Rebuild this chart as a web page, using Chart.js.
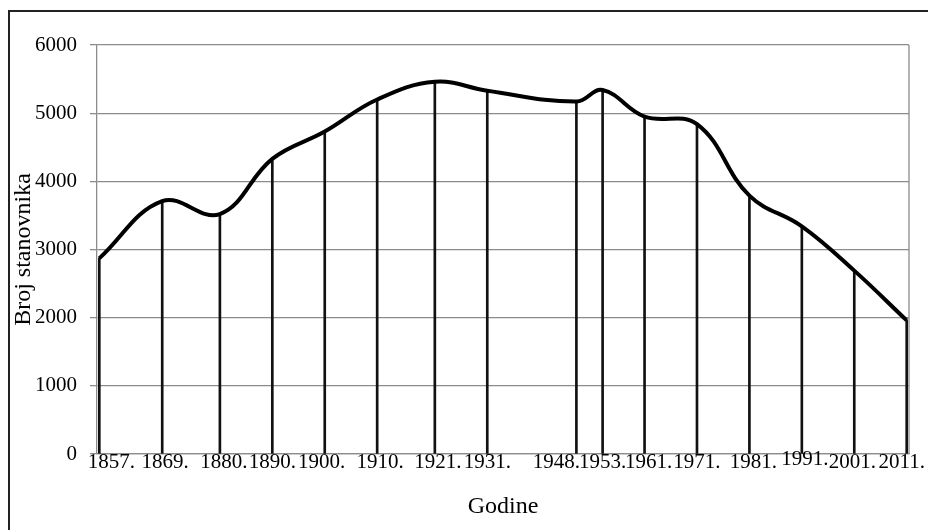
<!DOCTYPE html>
<html><head><meta charset="utf-8">
<script src="https://cdn.jsdelivr.net/npm/chart.js@4/dist/chart.umd.min.js"></script>
<style>
html,body{margin:0;padding:0;background:#fff;overflow:hidden;}
#wrap{position:relative;width:928px;height:530px;overflow:hidden;}
#frame{position:absolute;left:8px;top:10px;width:1000px;height:1000px;border-top:2px solid #222;border-left:2px solid #222;}
canvas{position:absolute;left:0;top:0;}
</style></head><body>
<div id="wrap"><div id="frame"></div><canvas id="c" width="928" height="530"></canvas></div>
<script>
// ---- data ----
const years = [1857,1869,1880,1890,1900,1910,1921,1931,1948,1953,1961,1971,1981,1991,2001,2011];
const population = [2870,3710,3520,4330,4730,5200,5460,5330,5170,5340,4950,4840,3790,3340,2690,1960];
const yearLabels = years.map(y => y + '.');
const yTickValues = [0,1000,2000,3000,4000,5000,6000];
const xTitle = 'Godine';
const yTitle = 'Broj stanovnika';

// ---- layout tweaks (label nudges, px) ----
const labelNudge = {1857:[12,0],1869:[3,0],1880:[4,0],1900:[-3,0],1910:[3,0],1921:[3,0],1948:[-20,0],1961:[4,0],1981:[4,0],1991:[3,-3],2001:[-2,0],2011:[-5,0]};

const points = years.map((y,i) => ({x:y, y:population[i]}));
const serif = '"Liberation Serif", "Times New Roman", serif';
const gridGray = '#8c8c8c';

const plotFrame = {
  id:'plotFrame',
  beforeDatasetsDraw(chart){
    const {ctx, chartArea:a} = chart;
    ctx.save();
    ctx.strokeStyle = gridGray; ctx.lineWidth = 1.3;
    ctx.beginPath(); ctx.moveTo(a.right, a.top); ctx.lineTo(a.right, a.bottom); ctx.stroke();
    ctx.restore();
  }
};
const yearTickLabels = {
  id:'yearTickLabels',
  afterDraw(chart){
    const {ctx} = chart; const xs = chart.scales.x;
    ctx.save();
    ctx.font = '21px ' + serif; ctx.fillStyle = '#000';
    ctx.textAlign = 'center'; ctx.textBaseline = 'alphabetic';
    years.forEach((yr,i) => {
      const n = labelNudge[yr] || [0,0];
      ctx.fillText(yearLabels[i], xs.getPixelForValue(yr) + n[0], xs.top + 14 + n[1]);
    });
    ctx.restore();
  }
};

new Chart(document.getElementById('c'), {
  type:'line',
  data:{
    datasets:[
      {type:'line', data:points, borderColor:'#000', borderWidth:4, pointRadius:0, tension:0.4, fill:false, order:1},
      {type:'bar', data:points, backgroundColor:'#111', barThickness:2, borderWidth:0, order:2}
    ]
  },
  options:{
    responsive:false, devicePixelRatio:1, animation:false,
    layout:{padding:{top:45,right:19,left:0,bottom:0}},
    plugins:{legend:{display:false}, tooltip:{enabled:false}},
    scales:{
      x:{
        type:'linear', min:1856.56, max:2011.44, offset:false,
        grid:{display:false, offset:false},
        border:{display:true, color:gridGray, width:1.3},
        ticks:{display:false},
        title:{display:true, text:xTitle, color:'#000', font:{family:serif, size:24}, padding:{top:0,bottom:9}},
        afterFit(s){ s.height = 76; s.paddingLeft = 0; s.paddingRight = 0; }
      },
      y:{
        type:'linear', min:0, max:6000,
        afterBuildTicks(s){ s.ticks = yTickValues.map(v => ({value:v})); },
        grid:{color:gridGray, lineWidth:1.3, tickLength:7, drawTicks:true},
        border:{display:true, color:gridGray, width:1.3},
        ticks:{color:'#000', padding:13, font:{family:serif, size:21}, callback:v => String(v)},
        title:{display:true, text:yTitle, color:'#000', font:{family:serif, size:24}, padding:{top:9,bottom:0}},
        afterFit(s){ s.width = 97; }
      }
    }
  },
  plugins:[plotFrame, yearTickLabels]
});
</script>
</body></html>
